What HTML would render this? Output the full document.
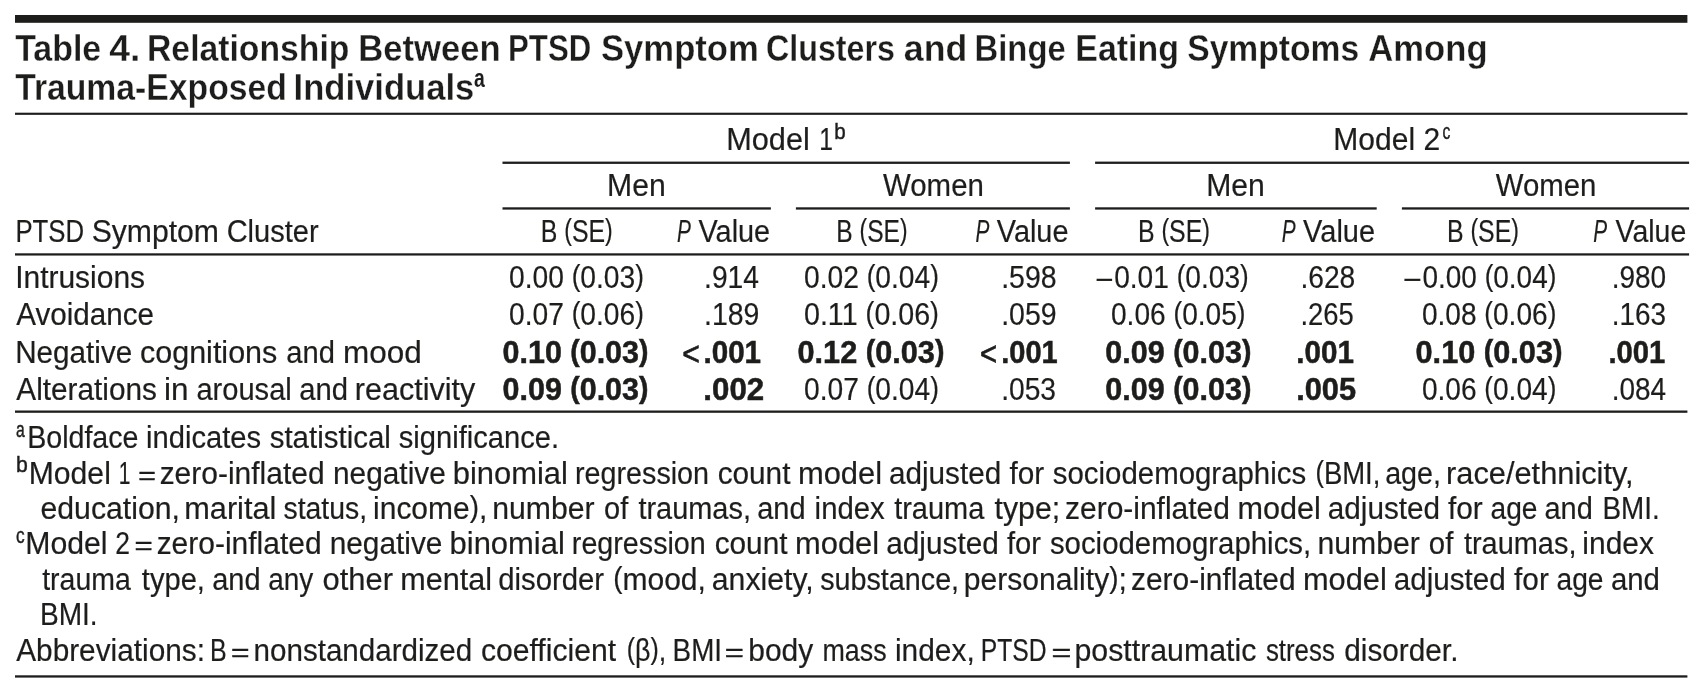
<!DOCTYPE html>
<html lang="en"><head><meta charset="utf-8"><title>Table 4</title>
<style>
html,body{margin:0;padding:0;background:#fff}
body{width:1703px;height:698px;overflow:hidden}
svg{display:block;will-change:transform}
text{font-family:"Liberation Sans", sans-serif;fill:#1d1d1b;white-space:pre}
rect{fill:#1d1d1b}
.bold{stroke:#1d1d1b;stroke-width:.5px}
.lt{stroke:#1d1d1b;stroke-width:.7px}
.reg,.num,.ital,.minus{stroke:#1d1d1b;stroke-width:.2px}
.eq,.sup{stroke:#1d1d1b;stroke-width:.45px}
.title{stroke:#fff;stroke-width:.3px}
.reg{font-size:31.0px;font-weight:normal;font-style:normal}.num{font-size:31.0px;font-weight:normal;font-style:normal}.bold{font-size:31.0px;font-weight:bold;font-style:normal}.lt{font-size:32.8px;font-weight:normal;font-style:normal}.eq{font-size:26.7px;font-weight:normal;font-style:normal}.minus{font-size:31.0px;font-weight:normal;font-style:normal}.ital{font-size:31.0px;font-weight:normal;font-style:italic}.title{font-size:36.5px;font-weight:bold;font-style:normal}.sup{font-size:22.5px;font-weight:normal;font-style:normal}.tsup{font-size:25.5px;font-weight:bold;font-style:normal}
</style></head><body>
<svg width="1703" height="698" viewBox="0 0 1703 698">
<g><rect x="15.00" y="15.00" width="1672.40" height="7.80"/><rect x="15.00" y="112.70" width="1672.50" height="2.15"/><rect x="502.50" y="161.60" width="567.40" height="2.30"/><rect x="1095.10" y="161.60" width="594.00" height="2.30"/><rect x="502.50" y="207.30" width="268.35" height="2.30"/><rect x="795.90" y="207.30" width="274.00" height="2.30"/><rect x="1095.10" y="207.30" width="281.60" height="2.30"/><rect x="1401.90" y="207.30" width="287.20" height="2.30"/><rect x="15.00" y="253.30" width="1674.10" height="2.25"/><rect x="15.00" y="410.50" width="1672.40" height="2.30"/><rect x="15.00" y="675.30" width="1672.40" height="2.30"/></g>
<g>
<text class="title" x="15.15" y="61.00" textLength="86.08" lengthAdjust="spacingAndGlyphs">Table</text>
<text class="title" x="109.15" y="61.00" textLength="31.19" lengthAdjust="spacingAndGlyphs">4.</text>
<text class="title" x="147.00" y="61.00" textLength="202.45" lengthAdjust="spacingAndGlyphs">Relationship</text>
<text class="title" x="358.25" y="61.00" textLength="142.43" lengthAdjust="spacingAndGlyphs">Between</text>
<text class="title" x="508.04" y="61.00" textLength="83.17" lengthAdjust="spacingAndGlyphs">PTSD</text>
<text class="title" x="601.00" y="61.00" textLength="157.83" lengthAdjust="spacingAndGlyphs">Symptom</text>
<text class="title" x="765.97" y="61.00" textLength="129.03" lengthAdjust="spacingAndGlyphs">Clusters</text>
<text class="title" x="903.87" y="61.00" textLength="63.42" lengthAdjust="spacingAndGlyphs">and</text>
<text class="title" x="974.55" y="61.00" textLength="91.17" lengthAdjust="spacingAndGlyphs">Binge</text>
<text class="title" x="1075.29" y="61.00" textLength="103.59" lengthAdjust="spacingAndGlyphs">Eating</text>
<text class="title" x="1187.23" y="61.00" textLength="172.02" lengthAdjust="spacingAndGlyphs">Symptoms</text>
<text class="title" x="1368.25" y="61.00" textLength="119.38" lengthAdjust="spacingAndGlyphs">Among</text>
</g>
<g>
<text class="title" x="15.15" y="100.00" textLength="271.72" lengthAdjust="spacingAndGlyphs">Trauma-Exposed</text>
<text class="title" x="293.55" y="100.00" textLength="180.73" lengthAdjust="spacingAndGlyphs">Individuals</text>
<text class="tsup" x="474.00" y="87.00" textLength="10.78" lengthAdjust="spacingAndGlyphs">a</text>
</g>
<g>
<text class="reg" x="726.22" y="150.00" textLength="83.60" lengthAdjust="spacingAndGlyphs">Model</text>
<text class="reg" x="819.36" y="150.00" textLength="13.73" lengthAdjust="spacingAndGlyphs">1</text>
<text class="sup" x="834.21" y="139.00" textLength="11.44" lengthAdjust="spacingAndGlyphs">b</text>
<text class="reg" x="1333.36" y="150.00" textLength="106.74" lengthAdjust="spacingAndGlyphs">Model 2</text>
<text class="sup" x="1442.42" y="138.90" textLength="7.83" lengthAdjust="spacingAndGlyphs">c</text>
</g>
<g>
<text class="reg" x="607.05" y="196.00" textLength="58.65" lengthAdjust="spacingAndGlyphs">Men</text>
<text class="reg" x="883.00" y="196.00" textLength="100.88" lengthAdjust="spacingAndGlyphs">Women</text>
<text class="reg" x="1206.15" y="196.00" textLength="58.65" lengthAdjust="spacingAndGlyphs">Men</text>
<text class="reg" x="1495.70" y="196.00" textLength="100.68" lengthAdjust="spacingAndGlyphs">Women</text>
</g>
<g>
<text class="reg" x="15.44" y="242.00" textLength="68.72" lengthAdjust="spacingAndGlyphs">PTSD</text>
<text class="reg" x="91.63" y="242.00" textLength="127.35" lengthAdjust="spacingAndGlyphs">Symptom</text>
<text class="reg" x="226.66" y="242.00" textLength="91.94" lengthAdjust="spacingAndGlyphs">Cluster</text>
<text class="reg" x="540.69" y="242.00" textLength="72.06" lengthAdjust="spacingAndGlyphs">B <tspan class="par" font-size="28.74" dy="-2.11">(</tspan><tspan dy="2.11">SE</tspan><tspan class="par" font-size="28.74" dy="-2.11">)</tspan></text>
<text class="ital" x="677.10" y="242.00" textLength="13.88" lengthAdjust="spacingAndGlyphs">P</text>
<text class="reg" x="698.50" y="242.00" textLength="71.65" lengthAdjust="spacingAndGlyphs">Value</text>
<text class="reg" x="836.31" y="242.00" textLength="71.23" lengthAdjust="spacingAndGlyphs">B <tspan class="par" font-size="28.74" dy="-2.11">(</tspan><tspan dy="2.11">SE</tspan><tspan class="par" font-size="28.74" dy="-2.11">)</tspan></text>
<text class="ital" x="975.60" y="242.00" textLength="13.88" lengthAdjust="spacingAndGlyphs">P</text>
<text class="reg" x="996.80" y="242.00" textLength="71.65" lengthAdjust="spacingAndGlyphs">Value</text>
<text class="reg" x="1137.89" y="242.00" textLength="72.06" lengthAdjust="spacingAndGlyphs">B <tspan class="par" font-size="28.74" dy="-2.11">(</tspan><tspan dy="2.11">SE</tspan><tspan class="par" font-size="28.74" dy="-2.11">)</tspan></text>
<text class="ital" x="1281.70" y="242.00" textLength="13.88" lengthAdjust="spacingAndGlyphs">P</text>
<text class="reg" x="1303.10" y="242.00" textLength="71.96" lengthAdjust="spacingAndGlyphs">Value</text>
<text class="reg" x="1446.89" y="242.00" textLength="72.06" lengthAdjust="spacingAndGlyphs">B <tspan class="par" font-size="28.74" dy="-2.11">(</tspan><tspan dy="2.11">SE</tspan><tspan class="par" font-size="28.74" dy="-2.11">)</tspan></text>
<text class="ital" x="1593.30" y="242.00" textLength="13.88" lengthAdjust="spacingAndGlyphs">P</text>
<text class="reg" x="1615.60" y="242.00" textLength="70.64" lengthAdjust="spacingAndGlyphs">Value</text>
</g>
<g>
<text class="reg" x="15.17" y="288.00" textLength="129.92" lengthAdjust="spacingAndGlyphs">Intrusions</text>
<text class="num" x="508.99" y="288.00" textLength="134.93" lengthAdjust="spacingAndGlyphs">0.00 <tspan class="par" font-size="28.74" dy="-2.11">(</tspan><tspan dy="2.11">0.03</tspan><tspan class="par" font-size="28.74" dy="-2.11">)</tspan></text>
<text class="num" x="704.08" y="288.00" textLength="54.94" lengthAdjust="spacingAndGlyphs">.914</text>
<text class="num" x="803.99" y="288.00" textLength="134.93" lengthAdjust="spacingAndGlyphs">0.02 <tspan class="par" font-size="28.74" dy="-2.11">(</tspan><tspan dy="2.11">0.04</tspan><tspan class="par" font-size="28.74" dy="-2.11">)</tspan></text>
<text class="num" x="1001.16" y="288.00" textLength="55.48" lengthAdjust="spacingAndGlyphs">.598</text>
<text class="minus" x="1094.99" y="289.60" textLength="18.33" lengthAdjust="spacingAndGlyphs">−</text>
<text class="num" x="1114.19" y="288.00" textLength="134.52" lengthAdjust="spacingAndGlyphs">0.01 <tspan class="par" font-size="28.74" dy="-2.11">(</tspan><tspan dy="2.11">0.03</tspan><tspan class="par" font-size="28.74" dy="-2.11">)</tspan></text>
<text class="num" x="1300.38" y="288.00" textLength="54.95" lengthAdjust="spacingAndGlyphs">.628</text>
<text class="minus" x="1402.76" y="289.60" textLength="18.78" lengthAdjust="spacingAndGlyphs">−</text>
<text class="num" x="1422.50" y="288.00" textLength="133.81" lengthAdjust="spacingAndGlyphs">0.00 <tspan class="par" font-size="28.74" dy="-2.11">(</tspan><tspan dy="2.11">0.04</tspan><tspan class="par" font-size="28.74" dy="-2.11">)</tspan></text>
<text class="num" x="1611.69" y="288.00" textLength="54.52" lengthAdjust="spacingAndGlyphs">.980</text>
</g>
<g>
<text class="reg" x="16.30" y="325.00" textLength="137.68" lengthAdjust="spacingAndGlyphs">Avoidance</text>
<text class="num" x="508.99" y="325.00" textLength="134.93" lengthAdjust="spacingAndGlyphs">0.07 <tspan class="par" font-size="28.74" dy="-2.11">(</tspan><tspan dy="2.11">0.06</tspan><tspan class="par" font-size="28.74" dy="-2.11">)</tspan></text>
<text class="num" x="704.06" y="325.00" textLength="55.37" lengthAdjust="spacingAndGlyphs">.189</text>
<text class="num" x="803.98" y="325.00" textLength="134.97" lengthAdjust="spacingAndGlyphs">0.11 <tspan class="par" font-size="28.74" dy="-2.11">(</tspan><tspan dy="2.11">0.06</tspan><tspan class="par" font-size="28.74" dy="-2.11">)</tspan></text>
<text class="num" x="1001.16" y="325.00" textLength="55.48" lengthAdjust="spacingAndGlyphs">.059</text>
<text class="num" x="1110.99" y="325.00" textLength="134.52" lengthAdjust="spacingAndGlyphs">0.06 <tspan class="par" font-size="28.74" dy="-2.11">(</tspan><tspan dy="2.11">0.05</tspan><tspan class="par" font-size="28.74" dy="-2.11">)</tspan></text>
<text class="num" x="1300.43" y="325.00" textLength="53.37" lengthAdjust="spacingAndGlyphs">.265</text>
<text class="num" x="1421.89" y="325.00" textLength="134.42" lengthAdjust="spacingAndGlyphs">0.08 <tspan class="par" font-size="28.74" dy="-2.11">(</tspan><tspan dy="2.11">0.06</tspan><tspan class="par" font-size="28.74" dy="-2.11">)</tspan></text>
<text class="num" x="1611.70" y="325.00" textLength="54.32" lengthAdjust="spacingAndGlyphs">.163</text>
</g>
<g>
<text class="reg" x="15.19" y="363.00" textLength="117.10" lengthAdjust="spacingAndGlyphs">Negative</text>
<text class="reg" x="140.02" y="363.00" textLength="137.28" lengthAdjust="spacingAndGlyphs">cognitions</text>
<text class="reg" x="286.26" y="363.00" textLength="48.61" lengthAdjust="spacingAndGlyphs">and</text>
<text class="reg" x="343.07" y="363.00" textLength="78.79" lengthAdjust="spacingAndGlyphs">mood</text>
<text class="bold" x="502.57" y="363.00" textLength="145.84" lengthAdjust="spacingAndGlyphs">0.10 <tspan class="par" font-size="28.74" dy="-2.11">(</tspan><tspan dy="2.11">0.03</tspan><tspan class="par" font-size="28.74" dy="-2.11">)</tspan></text>
<text class="lt" x="682.13" y="365.10" textLength="17.58" lengthAdjust="spacingAndGlyphs">&lt;</text>
<text class="bold" x="703.44" y="363.00" textLength="57.64" lengthAdjust="spacingAndGlyphs">.001</text>
<text class="bold" x="797.56" y="363.00" textLength="146.85" lengthAdjust="spacingAndGlyphs">0.12 <tspan class="par" font-size="28.74" dy="-2.11">(</tspan><tspan dy="2.11">0.03</tspan><tspan class="par" font-size="28.74" dy="-2.11">)</tspan></text>
<text class="lt" x="979.96" y="365.10" textLength="17.12" lengthAdjust="spacingAndGlyphs">&lt;</text>
<text class="bold" x="1001.28" y="363.00" textLength="56.50" lengthAdjust="spacingAndGlyphs">.001</text>
<text class="bold" x="1105.37" y="363.00" textLength="146.04" lengthAdjust="spacingAndGlyphs">0.09 <tspan class="par" font-size="28.74" dy="-2.11">(</tspan><tspan dy="2.11">0.03</tspan><tspan class="par" font-size="28.74" dy="-2.11">)</tspan></text>
<text class="bold" x="1296.24" y="363.00" textLength="57.64" lengthAdjust="spacingAndGlyphs">.001</text>
<text class="bold" x="1415.56" y="363.00" textLength="146.95" lengthAdjust="spacingAndGlyphs">0.10 <tspan class="par" font-size="28.74" dy="-2.11">(</tspan><tspan dy="2.11">0.03</tspan><tspan class="par" font-size="28.74" dy="-2.11">)</tspan></text>
<text class="bold" x="1608.46" y="363.00" textLength="56.91" lengthAdjust="spacingAndGlyphs">.001</text>
</g>
<g>
<text class="reg" x="16.30" y="400.00" textLength="140.58" lengthAdjust="spacingAndGlyphs">Alterations</text>
<text class="reg" x="163.97" y="400.00" textLength="24.49" lengthAdjust="spacingAndGlyphs">in</text>
<text class="reg" x="196.46" y="400.00" textLength="95.31" lengthAdjust="spacingAndGlyphs">arousal</text>
<text class="reg" x="299.26" y="400.00" textLength="48.81" lengthAdjust="spacingAndGlyphs">and</text>
<text class="reg" x="354.83" y="400.00" textLength="120.48" lengthAdjust="spacingAndGlyphs">reactivity</text>
<text class="bold" x="502.57" y="400.00" textLength="145.84" lengthAdjust="spacingAndGlyphs">0.09 <tspan class="par" font-size="28.74" dy="-2.11">(</tspan><tspan dy="2.11">0.03</tspan><tspan class="par" font-size="28.74" dy="-2.11">)</tspan></text>
<text class="bold" x="703.33" y="400.00" textLength="60.87" lengthAdjust="spacingAndGlyphs">.002</text>
<text class="num" x="803.99" y="400.00" textLength="134.93" lengthAdjust="spacingAndGlyphs">0.07 <tspan class="par" font-size="28.74" dy="-2.11">(</tspan><tspan dy="2.11">0.04</tspan><tspan class="par" font-size="28.74" dy="-2.11">)</tspan></text>
<text class="num" x="1001.18" y="400.00" textLength="54.85" lengthAdjust="spacingAndGlyphs">.053</text>
<text class="bold" x="1105.37" y="400.00" textLength="146.04" lengthAdjust="spacingAndGlyphs">0.09 <tspan class="par" font-size="28.74" dy="-2.11">(</tspan><tspan dy="2.11">0.03</tspan><tspan class="par" font-size="28.74" dy="-2.11">)</tspan></text>
<text class="bold" x="1296.16" y="400.00" textLength="59.93" lengthAdjust="spacingAndGlyphs">.005</text>
<text class="num" x="1421.89" y="400.00" textLength="134.42" lengthAdjust="spacingAndGlyphs">0.06 <tspan class="par" font-size="28.74" dy="-2.11">(</tspan><tspan dy="2.11">0.04</tspan><tspan class="par" font-size="28.74" dy="-2.11">)</tspan></text>
<text class="num" x="1611.70" y="400.00" textLength="54.42" lengthAdjust="spacingAndGlyphs">.084</text>
</g>
<g>
<text class="sup" x="15.92" y="437.00" textLength="8.72" lengthAdjust="spacingAndGlyphs">a</text>
<text class="reg" x="27.16" y="448.00" textLength="111.29" lengthAdjust="spacingAndGlyphs">Boldface</text>
<text class="reg" x="146.12" y="448.00" textLength="115.05" lengthAdjust="spacingAndGlyphs">indicates</text>
<text class="reg" x="269.70" y="448.00" textLength="121.19" lengthAdjust="spacingAndGlyphs">statistical</text>
<text class="reg" x="398.80" y="448.00" textLength="160.25" lengthAdjust="spacingAndGlyphs">significance.</text>
</g>
<g>
<text class="sup" x="15.88" y="472.00" textLength="11.79" lengthAdjust="spacingAndGlyphs">b</text>
<text class="reg" x="28.76" y="484.00" textLength="82.08" lengthAdjust="spacingAndGlyphs">Model</text>
<text class="reg" x="118.64" y="484.00" textLength="11.70" lengthAdjust="spacingAndGlyphs">1</text>
<text class="eq" x="138.29" y="484.10" textLength="17.66" lengthAdjust="spacingAndGlyphs">=</text>
<text class="reg" x="159.63" y="484.00" textLength="164.97" lengthAdjust="spacingAndGlyphs">zero-inflated</text>
<text class="reg" x="332.97" y="484.00" textLength="112.82" lengthAdjust="spacingAndGlyphs">negative</text>
<text class="reg" x="452.81" y="484.00" textLength="115.07" lengthAdjust="spacingAndGlyphs">binomial</text>
<text class="reg" x="575.05" y="484.00" textLength="134.00" lengthAdjust="spacingAndGlyphs">regression</text>
<text class="reg" x="717.64" y="484.00" textLength="72.79" lengthAdjust="spacingAndGlyphs">count</text>
<text class="reg" x="797.91" y="484.00" textLength="84.18" lengthAdjust="spacingAndGlyphs">model</text>
<text class="reg" x="888.94" y="484.00" textLength="112.35" lengthAdjust="spacingAndGlyphs">adjusted</text>
<text class="reg" x="1009.50" y="484.00" textLength="34.71" lengthAdjust="spacingAndGlyphs">for</text>
<text class="reg" x="1052.80" y="484.00" textLength="253.37" lengthAdjust="spacingAndGlyphs">sociodemographics</text>
<text class="reg" x="1315.41" y="484.00" textLength="65.00" lengthAdjust="spacingAndGlyphs"><tspan class="par" font-size="28.74" dy="-2.11">(</tspan><tspan dy="2.11">BMI,</tspan></text>
<text class="reg" x="1385.17" y="484.00" textLength="55.84" lengthAdjust="spacingAndGlyphs">age,</text>
<text class="reg" x="1446.01" y="484.00" textLength="187.68" lengthAdjust="spacingAndGlyphs">race/ethnicity,</text>
</g>
<g>
<text class="reg" x="40.53" y="519.00" textLength="139.42" lengthAdjust="spacingAndGlyphs">education,</text>
<text class="reg" x="184.22" y="519.00" textLength="92.15" lengthAdjust="spacingAndGlyphs">marital</text>
<text class="reg" x="283.50" y="519.00" textLength="83.59" lengthAdjust="spacingAndGlyphs">status,</text>
<text class="reg" x="373.07" y="519.00" textLength="114.16" lengthAdjust="spacingAndGlyphs">income<tspan class="par" font-size="28.74" dy="-2.11">)</tspan><tspan dy="2.11">,</tspan></text>
<text class="reg" x="492.25" y="519.00" textLength="102.36" lengthAdjust="spacingAndGlyphs">number</text>
<text class="reg" x="604.07" y="519.00" textLength="24.17" lengthAdjust="spacingAndGlyphs">of</text>
<text class="reg" x="638.40" y="519.00" textLength="112.54" lengthAdjust="spacingAndGlyphs">traumas,</text>
<text class="reg" x="757.27" y="519.00" textLength="48.29" lengthAdjust="spacingAndGlyphs">and</text>
<text class="reg" x="814.61" y="519.00" textLength="70.12" lengthAdjust="spacingAndGlyphs">index</text>
<text class="reg" x="894.20" y="519.00" textLength="90.09" lengthAdjust="spacingAndGlyphs">trauma</text>
<text class="reg" x="994.50" y="519.00" textLength="65.65" lengthAdjust="spacingAndGlyphs">type;</text>
<text class="reg" x="1065.03" y="519.00" textLength="164.87" lengthAdjust="spacingAndGlyphs">zero-inflated</text>
<text class="reg" x="1237.53" y="519.00" textLength="83.34" lengthAdjust="spacingAndGlyphs">model</text>
<text class="reg" x="1327.84" y="519.00" textLength="112.25" lengthAdjust="spacingAndGlyphs">adjusted</text>
<text class="reg" x="1448.00" y="519.00" textLength="34.81" lengthAdjust="spacingAndGlyphs">for</text>
<text class="reg" x="1490.59" y="519.00" textLength="46.93" lengthAdjust="spacingAndGlyphs">age</text>
<text class="reg" x="1544.47" y="519.00" textLength="48.29" lengthAdjust="spacingAndGlyphs">and</text>
<text class="reg" x="1602.50" y="519.00" textLength="57.24" lengthAdjust="spacingAndGlyphs">BMI.</text>
</g>
<g>
<text class="sup" x="16.12" y="542.85" textLength="8.65" lengthAdjust="spacingAndGlyphs">c</text>
<text class="reg" x="25.25" y="554.00" textLength="82.29" lengthAdjust="spacingAndGlyphs">Model</text>
<text class="reg" x="115.35" y="554.00" textLength="14.71" lengthAdjust="spacingAndGlyphs">2</text>
<text class="eq" x="134.45" y="554.10" textLength="18.21" lengthAdjust="spacingAndGlyphs">=</text>
<text class="reg" x="156.63" y="554.00" textLength="164.97" lengthAdjust="spacingAndGlyphs">zero-inflated</text>
<text class="reg" x="329.67" y="554.00" textLength="112.82" lengthAdjust="spacingAndGlyphs">negative</text>
<text class="reg" x="449.60" y="554.00" textLength="115.18" lengthAdjust="spacingAndGlyphs">binomial</text>
<text class="reg" x="571.85" y="554.00" textLength="133.90" lengthAdjust="spacingAndGlyphs">regression</text>
<text class="reg" x="714.64" y="554.00" textLength="72.89" lengthAdjust="spacingAndGlyphs">count</text>
<text class="reg" x="795.01" y="554.00" textLength="84.07" lengthAdjust="spacingAndGlyphs">model</text>
<text class="reg" x="886.24" y="554.00" textLength="112.55" lengthAdjust="spacingAndGlyphs">adjusted</text>
<text class="reg" x="1007.00" y="554.00" textLength="34.00" lengthAdjust="spacingAndGlyphs">for</text>
<text class="reg" x="1049.90" y="554.00" textLength="261.28" lengthAdjust="spacingAndGlyphs">sociodemographics,</text>
<text class="reg" x="1317.45" y="554.00" textLength="102.36" lengthAdjust="spacingAndGlyphs">number</text>
<text class="reg" x="1428.85" y="554.00" textLength="24.48" lengthAdjust="spacingAndGlyphs">of</text>
<text class="reg" x="1463.90" y="554.00" textLength="112.54" lengthAdjust="spacingAndGlyphs">traumas,</text>
<text class="reg" x="1582.37" y="554.00" textLength="71.55" lengthAdjust="spacingAndGlyphs">index</text>
</g>
<g>
<text class="reg" x="42.20" y="590.00" textLength="88.60" lengthAdjust="spacingAndGlyphs">trauma</text>
<text class="reg" x="141.80" y="590.00" textLength="63.16" lengthAdjust="spacingAndGlyphs">type,</text>
<text class="reg" x="212.27" y="590.00" textLength="48.29" lengthAdjust="spacingAndGlyphs">and</text>
<text class="reg" x="268.30" y="590.00" textLength="45.05" lengthAdjust="spacingAndGlyphs">any</text>
<text class="reg" x="322.60" y="590.00" textLength="70.42" lengthAdjust="spacingAndGlyphs">other</text>
<text class="reg" x="400.33" y="590.00" textLength="91.73" lengthAdjust="spacingAndGlyphs">mental</text>
<text class="reg" x="498.25" y="590.00" textLength="105.85" lengthAdjust="spacingAndGlyphs">disorder</text>
<text class="reg" x="613.13" y="590.00" textLength="92.80" lengthAdjust="spacingAndGlyphs"><tspan class="par" font-size="28.74" dy="-2.11">(</tspan><tspan dy="2.11">mood,</tspan></text>
<text class="reg" x="711.82" y="590.00" textLength="101.92" lengthAdjust="spacingAndGlyphs">anxiety,</text>
<text class="reg" x="820.20" y="590.00" textLength="138.92" lengthAdjust="spacingAndGlyphs">substance,</text>
<text class="reg" x="963.76" y="590.00" textLength="163.08" lengthAdjust="spacingAndGlyphs">personality<tspan class="par" font-size="28.74" dy="-2.11">)</tspan><tspan dy="2.11">;</tspan></text>
<text class="reg" x="1131.04" y="590.00" textLength="164.56" lengthAdjust="spacingAndGlyphs">zero-inflated</text>
<text class="reg" x="1302.91" y="590.00" textLength="83.86" lengthAdjust="spacingAndGlyphs">model</text>
<text class="reg" x="1393.74" y="590.00" textLength="112.04" lengthAdjust="spacingAndGlyphs">adjusted</text>
<text class="reg" x="1514.10" y="590.00" textLength="34.71" lengthAdjust="spacingAndGlyphs">for</text>
<text class="reg" x="1556.49" y="590.00" textLength="47.04" lengthAdjust="spacingAndGlyphs">age</text>
<text class="reg" x="1610.95" y="590.00" textLength="49.02" lengthAdjust="spacingAndGlyphs">and</text>
</g>
<g>
<text class="reg" x="39.99" y="625.00" textLength="57.67" lengthAdjust="spacingAndGlyphs">BMI.</text>
</g>
<g>
<text class="reg" x="16.20" y="661.00" textLength="188.81" lengthAdjust="spacingAndGlyphs">Abbreviations:</text>
<text class="reg" x="209.89" y="661.00" textLength="16.66" lengthAdjust="spacingAndGlyphs">B</text>
<text class="eq" x="230.93" y="661.10" textLength="18.55" lengthAdjust="spacingAndGlyphs">=</text>
<text class="reg" x="253.59" y="661.00" textLength="218.69" lengthAdjust="spacingAndGlyphs">nonstandardized</text>
<text class="reg" x="480.93" y="661.00" textLength="135.10" lengthAdjust="spacingAndGlyphs">coefficient</text>
<text class="reg" x="626.63" y="661.00" textLength="39.53" lengthAdjust="spacingAndGlyphs"><tspan class="par" font-size="28.74" dy="-2.11">(</tspan><tspan dy="2.11">β</tspan><tspan class="par" font-size="28.74" dy="-2.11">)</tspan><tspan dy="2.11">,</tspan></text>
<text class="reg" x="672.61" y="661.00" textLength="49.44" lengthAdjust="spacingAndGlyphs">BMI</text>
<text class="eq" x="724.69" y="661.10" textLength="19.10" lengthAdjust="spacingAndGlyphs">=</text>
<text class="reg" x="748.27" y="661.00" textLength="64.95" lengthAdjust="spacingAndGlyphs">body</text>
<text class="reg" x="822.47" y="661.00" textLength="64.17" lengthAdjust="spacingAndGlyphs">mass</text>
<text class="reg" x="894.97" y="661.00" textLength="79.75" lengthAdjust="spacingAndGlyphs">index,</text>
<text class="reg" x="980.71" y="661.00" textLength="65.90" lengthAdjust="spacingAndGlyphs">PTSD</text>
<text class="eq" x="1051.64" y="661.10" textLength="19.88" lengthAdjust="spacingAndGlyphs">=</text>
<text class="reg" x="1074.44" y="661.00" textLength="181.94" lengthAdjust="spacingAndGlyphs">posttraumatic</text>
<text class="reg" x="1265.90" y="661.00" textLength="68.92" lengthAdjust="spacingAndGlyphs">stress</text>
<text class="reg" x="1344.24" y="661.00" textLength="114.17" lengthAdjust="spacingAndGlyphs">disorder.</text>
</g>
</svg>
</body></html>
